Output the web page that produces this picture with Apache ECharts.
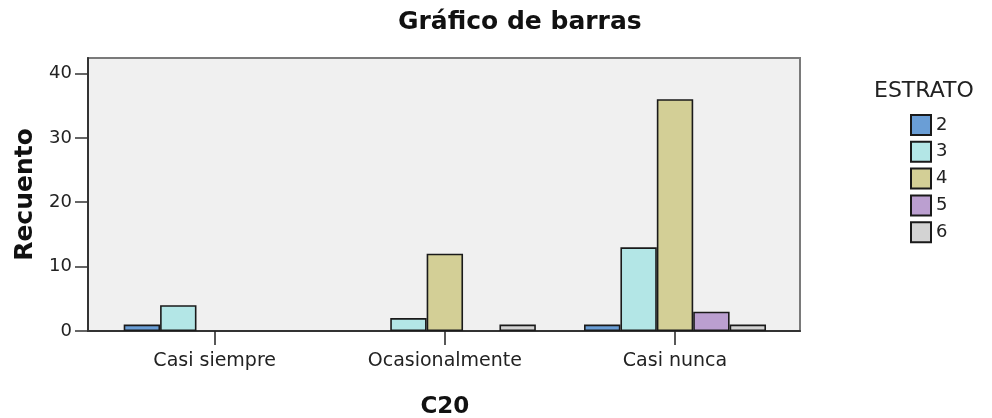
<!DOCTYPE html>
<html>
<head>
<meta charset="utf-8">
<script src="https://cdn.jsdelivr.net/npm/echarts@6/dist/echarts.min.js"></script>
<style>
  html, body { margin: 0; padding: 0; background: #fff; }
  #chart { width: 992px; height: 418px; }
</style>
</head>
<body>
<div id="chart"></div>
<script>
const categories = ['Casi siempre', 'Ocasionalmente', 'Casi nunca'];
const estratoNames = ['2', '3', '4', '5', '6'];
const estrato2 = [1, null, 1];
const estrato3 = [4, 2, 13];
const estrato4 = [null, 12, 36];
const estrato5 = [null, null, 3];
const estrato6 = [null, 1, 1];
const yTicks = [0, 10, 20, 30, 40];

const colors = ['#6a9ed6', '#b3e6e6', '#d3cf96', '#bb9fd0', '#d3d3d3'];
const font = 'DejaVu Sans';
const yMax = 42.4;

const chart = echarts.init(document.getElementById('chart'), null, { renderer: 'canvas' });

const seriesData = [estrato2, estrato3, estrato4, estrato5, estrato6];

const option = {
  animation: false,
  title: [
    {
      text: 'Gráfico de barras',
      left: 393,
      top: 5,
      textStyle: { fontFamily: font, fontSize: 25, fontWeight: 'bold', color: '#111' }
    },
    {
      text: 'ESTRATO',
      left: 869,
      top: 75,
      textStyle: { fontFamily: font, fontSize: 22, fontWeight: 'normal', color: '#222' }
    }
  ],
  legend: {
    orient: 'vertical',
    left: 910,
    top: 114,
    padding: 0,
    itemWidth: 20,
    itemHeight: 20,
    itemGap: 4.8,
    icon: 'rect',
    data: estratoNames,
    textStyle: { fontFamily: font, fontSize: 18, color: '#222' }
  },
  grid: [
    // frame
    { left: 88, top: 58, width: 712, height: 273, outerBoundsMode: 'none', show: true, backgroundColor: '#f0f0f0', borderColor: '#7a7a7a', borderWidth: 2 },
    // data
    { left: 99.6, top: 58, width: 690.5, height: 273, outerBoundsMode: 'none' }
  ],
  xAxis: [
    {
      gridIndex: 0,
      type: 'category',
      data: categories,
      axisLine: { lineStyle: { color: '#333', width: 2 } },
      axisTick: { show: false },
      axisLabel: { show: false }
    },
    {
      gridIndex: 1,
      type: 'category',
      data: categories,
      name: 'C20',
      nameLocation: 'middle',
      nameGap: 65,
      nameTextStyle: { fontFamily: font, fontSize: 23, fontWeight: 'bold', color: '#111' },
      axisLine: { show: false },
      axisTick: { show: true, alignWithLabel: true, length: 14, lineStyle: { color: '#222', width: 1.5 } },
      axisLabel: { margin: 21, fontFamily: font, fontSize: 19, color: '#222' }
    }
  ],
  yAxis: [
    {
      gridIndex: 0,
      type: 'value',
      min: 0,
      max: yMax,
      interval: 10,
      name: 'Recuento',
      nameLocation: 'middle',
      nameGap: 50,
      nameTextStyle: { fontFamily: font, fontSize: 25, fontWeight: 'bold', color: '#111' },
      axisLine: { show: true, lineStyle: { color: '#333', width: 2 } },
      axisTick: { show: true, length: 13, customValues: yTicks, lineStyle: { color: '#333', width: 1.5 } },
      axisLabel: { margin: 16, customValues: yTicks, fontFamily: font, fontSize: 18, color: '#222' },
      splitLine: { show: false }
    },
    {
      gridIndex: 1,
      type: 'value',
      min: 0,
      max: yMax,
      show: false,
      splitLine: { show: false }
    }
  ],
  series: estratoNames.map((name, i) => ({
    name: name,
    type: 'bar',
    xAxisIndex: 1,
    yAxisIndex: 1,
    barWidth: 36.4,
    barGap: '0%',
    data: seriesData[i],
    itemStyle: { color: colors[i], borderColor: '#1a1a1a', borderWidth: 1.6 }
  }))
};

chart.setOption(option);
</script>
</body>
</html>
